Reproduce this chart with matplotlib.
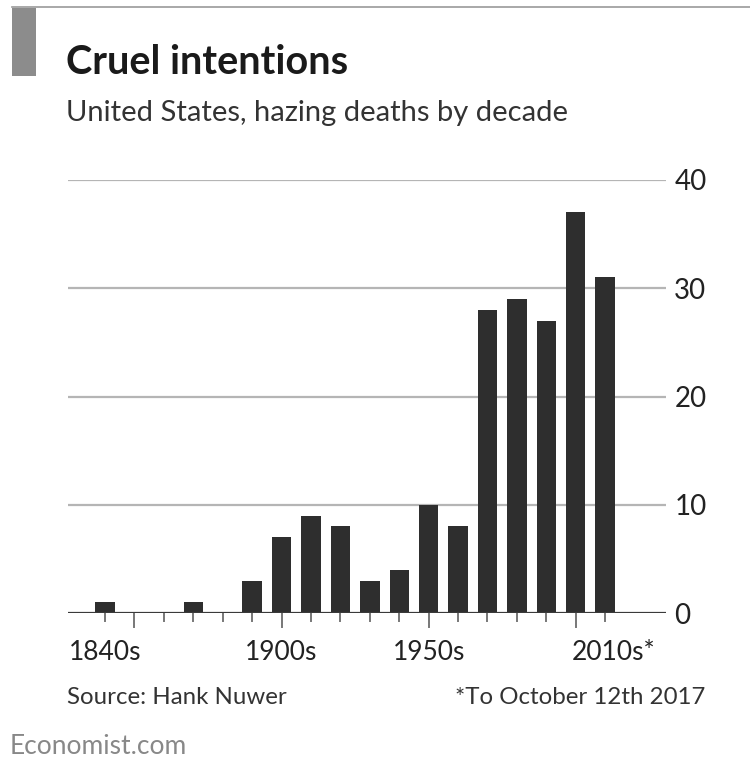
import matplotlib
matplotlib.use("Agg")
import matplotlib.pyplot as plt
from matplotlib.patches import Rectangle
from matplotlib.lines import Line2D

decades = ["1840s", "1850s", "1860s", "1870s", "1880s", "1890s", "1900s", "1910s",
           "1920s", "1930s", "1940s", "1950s", "1960s", "1970s", "1980s", "1990s",
           "2000s", "2010s"]
deaths = [1, 0, 0, 1, 0, 3, 7, 9, 8, 3, 4, 10, 8, 28, 29, 27, 37, 31]
x_labels = {"1840s": "1840s", "1900s": "1900s", "1950s": "1950s", "2010s": "2010s*"}
long_ticks = ["1850s", "1900s", "1950s", "2000s"]
y_ticks = [0, 10, 20, 30, 40]

FONT = ["Lato", "DejaVu Sans"]
W, H = 750, 764
fig = plt.figure(figsize=(7.5, 7.64), dpi=100)
fig.patch.set_facecolor("white")

def fx(px):
    return px / W

def fy(py):
    return 1 - py / H

fig.add_artist(Line2D([fx(12), fx(750)], [fy(7), fy(7)], color="#9a9a9a", lw=1.2))
fig.add_artist(Rectangle((fx(12), fy(76)), fx(24), fy(8) - fy(76), color="#8c8c8c", lw=0))

fig.text(fx(66), fy(62), "Cruel intentions", fontsize=28.5, fontweight="bold",
         family=FONT, color="#1a1a1a", va="center", ha="left")
fig.text(fx(66), fy(113), "United States, hazing deaths by decade", fontsize=21,
         family=FONT, color="#333333", va="center", ha="left")

ax = fig.add_axes([fx(68), fy(613), fx(666) - fx(68), fy(180) - fy(613)])
xs = list(range(len(decades)))
ax.bar(xs, deaths, width=0.66, color="#2e2e2e", zorder=3)
ax.set_xlim(-1.26, len(decades) - 1 + 2.07)
ax.set_ylim(0, 40)

for v in y_ticks:
    if v == 0:
        ax.axhline(v, color="#3a3a3a", lw=1.6, zorder=4)
    else:
        ax.axhline(v, color="#b5b5b5", lw=1.6, zorder=1)

for s in ax.spines.values():
    s.set_visible(False)

ax.yaxis.tick_right()
ax.set_yticks(y_ticks)
ax.set_yticklabels([str(v) for v in y_ticks], family=FONT, fontsize=20, color="#222222")
ax.tick_params(axis="y", length=0, pad=6)
ax.set_xticks([])

trans = ax.get_xaxis_transform()
for i, d in enumerate(decades):
    ln = 14 if d in long_ticks else 8
    ax.add_artist(Line2D([i, i], [0, -ln / 433], color="#777777", lw=1.4,
                         transform=trans, clip_on=False))
    if d in x_labels:
        lab = x_labels[d]
        off = 0.3 if lab.endswith("*") else 0.0
        ax.text(i + off, -40 / 433, lab, transform=trans, ha="center",
                va="center", fontsize=19, family=FONT, color="#222222")

fig.text(fx(67), fy(697), "Source: Hank Nuwer", fontsize=17.3, family=FONT,
         color="#333333", va="center", ha="left")
fig.text(fx(705), fy(697), "*To October 12th 2017", fontsize=17.3, family=FONT,
         color="#333333", va="center", ha="right")
fig.text(fx(10), fy(746), "Economist.com", fontsize=19, family=FONT,
         color="#888888", va="center", ha="left")

fig.savefig("out.png", dpi=100, facecolor="white")
